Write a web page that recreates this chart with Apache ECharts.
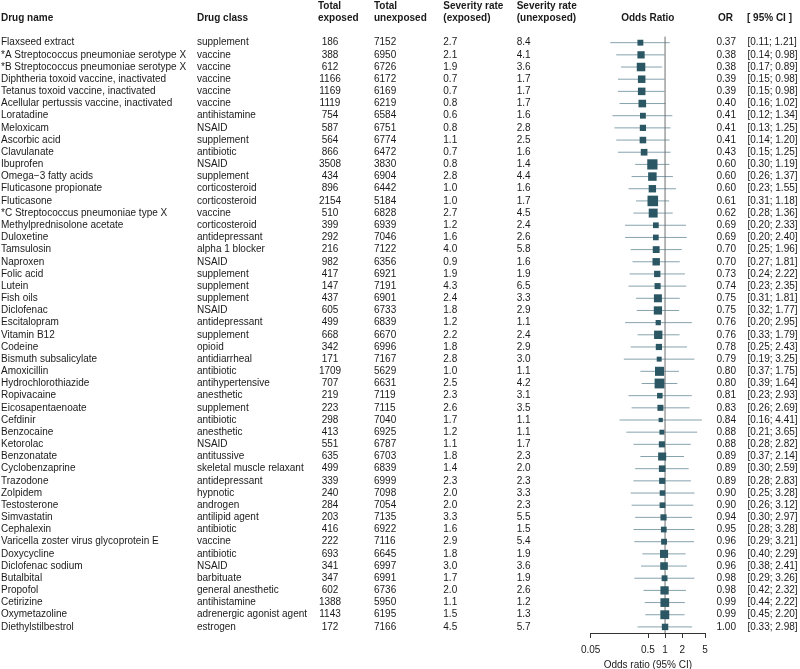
<!DOCTYPE html>
<html><head><meta charset="utf-8">
<script src="https://cdn.jsdelivr.net/npm/echarts@6/dist/echarts.min.js"></script>
<style>html,body{margin:0;padding:0;background:#fff}#c{width:800px;height:669px}</style>
</head><body><div id="c"></div>
<script>
const drugNames = ['Flaxseed extract','*A Streptococcus pneumoniae serotype X','*B Streptococcus pneumoniae serotype X','Diphtheria toxoid vaccine, inactivated','Tetanus toxoid vaccine, inactivated','Acellular pertussis vaccine, inactivated','Loratadine','Meloxicam','Ascorbic acid','Clavulanate','Ibuprofen','Omega\u22123 fatty acids','Fluticasone propionate','Fluticasone','*C Streptococcus pneumoniae type X','Methylprednisolone acetate','Duloxetine','Tamsulosin','Naproxen','Folic acid','Lutein','Fish oils','Diclofenac','Escitalopram','Vitamin B12','Codeine','Bismuth subsalicylate','Amoxicillin','Hydrochlorothiazide','Ropivacaine','Eicosapentaenoate','Cefdinir','Benzocaine','Ketorolac','Benzonatate','Cyclobenzaprine','Trazodone','Zolpidem','Testosterone','Simvastatin','Cephalexin','Varicella zoster virus glycoprotein E','Doxycycline','Diclofenac sodium','Butalbital','Propofol','Cetirizine','Oxymetazoline','Diethylstilbestrol'];
const drugClasses = ['supplement','vaccine','vaccine','vaccine','vaccine','vaccine','antihistamine','NSAID','supplement','antibiotic','NSAID','supplement','corticosteroid','corticosteroid','vaccine','corticosteroid','antidepressant','alpha 1 blocker','NSAID','supplement','supplement','supplement','NSAID','antidepressant','supplement','opioid','antidiarrheal','antibiotic','antihypertensive','anesthetic','supplement','antibiotic','anesthetic','NSAID','antitussive','skeletal muscle relaxant','antidepressant','hypnotic','androgen','antilipid agent','antibiotic','vaccine','antibiotic','NSAID','barbituate','general anesthetic','antihistamine','adrenergic agonist agent','estrogen'];
const totalExposed = [186,388,612,1166,1169,1119,754,587,564,866,3508,434,896,2154,510,399,292,216,982,417,147,437,605,499,668,342,171,1709,707,219,223,298,413,551,635,499,339,240,284,203,416,222,693,341,347,602,1388,1143,172];
const totalUnexposed = [7152,6950,6726,6172,6169,6219,6584,6751,6774,6472,3830,6904,6442,5184,6828,6939,7046,7122,6356,6921,7191,6901,6733,6839,6670,6996,7167,5629,6631,7119,7115,7040,6925,6787,6703,6839,6999,7098,7054,7135,6922,7116,6645,6997,6991,6736,5950,6195,7166];
const severityExposed = [2.7,2.1,1.9,0.7,0.7,0.8,0.6,0.8,1.1,0.7,0.8,2.8,1.0,1.0,2.7,1.2,1.6,4.0,0.9,1.9,4.3,2.4,1.8,1.2,2.2,1.8,2.8,1.0,2.5,2.3,2.6,1.7,1.2,1.1,1.8,1.4,2.3,2.0,2.0,3.3,1.6,2.9,1.8,3.0,1.7,2.0,1.1,1.5,4.5];
const severityUnexposed = [8.4,4.1,3.6,1.7,1.7,1.7,1.6,2.8,2.5,1.6,1.4,4.4,1.6,1.7,4.5,2.4,2.6,5.8,1.6,1.9,6.5,3.3,2.9,1.1,2.4,2.9,3.0,1.1,4.2,3.1,3.5,1.1,1.1,1.7,2.3,2.0,2.3,3.3,2.3,5.5,1.5,5.4,1.9,3.6,1.9,2.6,1.2,1.3,5.7];
const oddsRatio = [0.37,0.38,0.38,0.39,0.39,0.40,0.41,0.41,0.41,0.43,0.60,0.60,0.60,0.61,0.62,0.69,0.69,0.70,0.70,0.73,0.74,0.75,0.75,0.76,0.76,0.78,0.79,0.80,0.80,0.81,0.83,0.84,0.88,0.88,0.89,0.89,0.89,0.90,0.90,0.94,0.95,0.96,0.96,0.96,0.98,0.98,0.99,0.99,1.00];
const ciLower = [0.11,0.14,0.17,0.15,0.15,0.16,0.12,0.13,0.14,0.15,0.30,0.26,0.23,0.31,0.28,0.20,0.20,0.25,0.27,0.24,0.23,0.31,0.32,0.20,0.33,0.25,0.19,0.37,0.39,0.23,0.26,0.16,0.21,0.28,0.37,0.30,0.28,0.25,0.26,0.30,0.28,0.29,0.40,0.38,0.29,0.42,0.44,0.45,0.33];
const ciUpper = [1.21,0.98,0.89,0.98,0.98,1.02,1.34,1.25,1.20,1.25,1.19,1.37,1.55,1.18,1.36,2.33,2.40,1.96,1.81,2.22,2.35,1.81,1.77,2.95,1.79,2.43,3.25,1.75,1.64,2.93,2.69,4.41,3.65,2.82,2.14,2.59,2.83,3.28,3.12,2.97,3.28,3.21,2.29,2.41,3.26,2.32,2.22,2.20,2.98];
const axisTicks = [0.05, 0.5, 1, 2, 5];
const axisMin = 0.05, axisMax = 5;
const nullValue = 1;

const FONT = '"Liberation Sans", Arial, Helvetica, sans-serif';
const TXT = '#1a1a1a';
const GL = 590.7, GW = 114.3, GT = 36.6, GH = 596.4;
const L = v => Math.log10(v);

function colAxis(data, pos, offset, align) {
  return {
    type: 'category', data: data, inverse: true, position: pos, offset: offset,
    axisLine: {show: false, onZero: false}, axisTick: {show: false}, splitLine: {show: false},
    axisLabel: {interval: 0, inside: pos === 'left', margin: 0, align: align,
      color: TXT, fontSize: 10, fontFamily: FONT}
  };
}

const yAxes = [
  colAxis(drugNames, 'left', GL - 1, 'left'),
  colAxis(drugClasses, 'left', GL - 197, 'left'),
  colAxis(totalExposed.map(String), 'left', GL - 330, 'center'),
  colAxis(totalUnexposed.map(String), 'left', GL - 374, 'left'),
  colAxis(severityExposed.map(v => v.toFixed(1)), 'left', GL - 443.3, 'left'),
  colAxis(severityUnexposed.map(v => v.toFixed(1)), 'left', GL - 516.7, 'left'),
  colAxis(oddsRatio.map(v => v.toFixed(2)), 'right', 716.5 - (GL + GW), 'left'),
  colAxis(ciLower.map((v, i) => '[' + v.toFixed(2) + '; ' + ciUpper[i].toFixed(2) + ']'), 'right', 747.5 - (GL + GW), 'left'),
  {type: 'value', min: 0, max: 1, show: false, axisLine: {onZero: false}}
];

const ciData = oddsRatio.map((v, i) => [i, L(ciLower[i]), L(ciUpper[i])]);
const orData = oddsRatio.map((v, i) => [L(v), i, ciLower[i], ciUpper[i]]);

const hdr = {fontSize: 10, fontWeight: 'bold', fontFamily: FONT, fill: TXT, verticalAlign: 'middle', lineHeight: 12.3};
function head(text, x, y, align) {
  return {type: 'text', x: x, y: y, silent: true, style: Object.assign({text: text, align: align || 'left'}, hdr)};
}

const option = {
  animation: false,
  backgroundColor: '#fff',
  textStyle: {fontFamily: FONT},
  grid: {left: GL, top: GT, width: GW, height: GH, containLabel: false, outerBoundsMode: 'none'},
  xAxis: {
    type: 'value', min: L(axisMin), max: L(axisMax),
    axisLine: {show: true, onZero: false, lineStyle: {color: '#333', width: 1}},
    axisTick: {show: true, inside: false, length: 5, customValues: axisTicks.map(L), lineStyle: {color: '#333', width: 1}},
    axisLabel: {customValues: axisTicks.map(L), margin: 12, color: TXT, fontSize: 10, fontFamily: FONT,
      formatter: v => { const t = axisTicks.find(a => Math.abs(L(a) - v) < 1e-6); return t === undefined ? '' : String(t); }},
    splitLine: {show: false},
    name: 'Odds ratio (95% CI)', nameLocation: 'middle', nameGap: 24,
    nameTextStyle: {color: TXT, fontSize: 10, fontFamily: FONT}
  },
  yAxis: yAxes,
  graphic: [
    head('Drug name', 1, 18.3),
    head('Drug class', 197, 18.3),
    head('Total\nexposed', 318, 12.2),
    head('Total\nunexposed', 374, 12.2),
    head('Severity rate\n(exposed)', 443.3, 12.2),
    head('Severity rate\n(unexposed)', 516.7, 12.2),
    head('Odds Ratio', 647.8, 18.3, 'center'),
    head('OR', 718, 18.3),
    head('[ 95% CI ]', 747, 18.3)
  ],
  series: [
    {
      type: 'line', xAxisIndex: 0, yAxisIndex: 8, z: 3, silent: true,
      symbol: 'none', lineStyle: {color: '#6e6e6e', width: 1},
      data: [[L(nullValue), 0], [L(nullValue), 1]]
    },
    {
      type: 'custom', xAxisIndex: 0, yAxisIndex: 0, z: 2, silent: true,
      data: ciData,
      renderItem: function (params, api) {
        const idx = api.value(0);
        const p0 = api.coord([api.value(1), idx]);
        const p1 = api.coord([api.value(2), idx]);
        return {type: 'line', shape: {x1: p0[0], y1: p0[1], x2: p1[0], y2: p1[1]},
          style: {stroke: '#86a3ad', lineWidth: 1}};
      }
    },
    {
      type: 'scatter', xAxisIndex: 0, yAxisIndex: 0, z: 5, silent: true,
      symbol: 'rect',
      symbolSize: function (val) {
        const se = (Math.log(val[3]) - Math.log(val[2])) / (2 * 1.96);
        return 3.6 / se;
      },
      itemStyle: {color: '#2b5764', opacity: 1},
      data: orData
    }
  ]
};
const chart = echarts.init(document.getElementById('c'), null, {renderer: 'canvas'});
chart.setOption(option);
</script></body></html>
